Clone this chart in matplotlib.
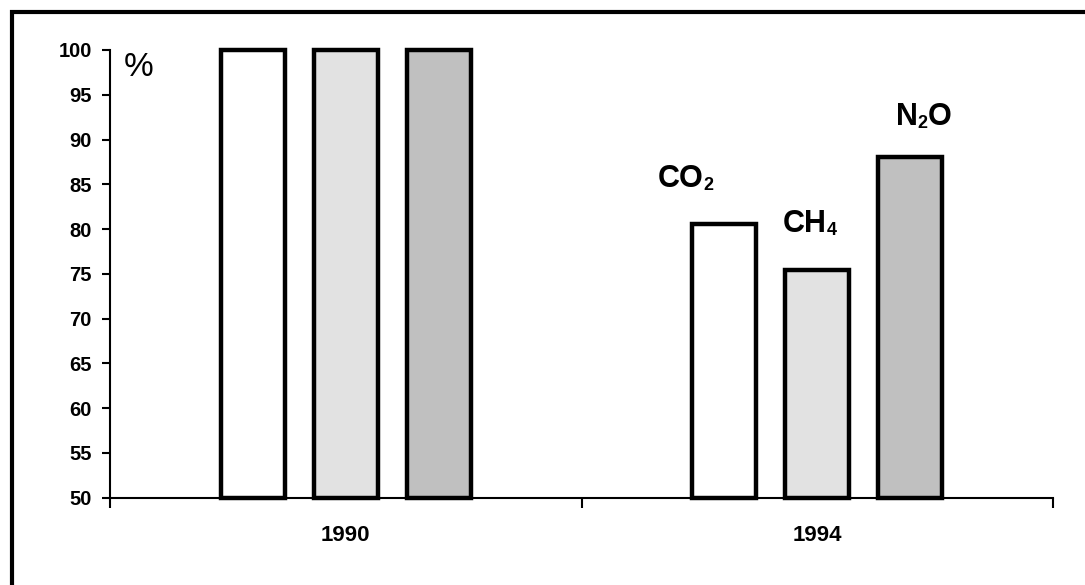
import matplotlib
matplotlib.use("Agg")
import matplotlib.pyplot as plt
from matplotlib.patches import Rectangle
from matplotlib.transforms import offset_copy

years = ["1990", "1994"]
gases = ["CO2", "CH4", "N2O"]
gas_label_parts = [[("CO", False), ("2", True)],
                   [("CH", False), ("4", True)],
                   [("N", False), ("2", True), ("O", False)]]
values_1990 = [100, 100, 100]
values_1994 = [80.6, 75.4, 88.0]
colors = ["#FFFFFF", "#E2E2E2", "#C0C0C0"]
yticks = [50, 55, 60, 65, 70, 75, 80, 85, 90, 95, 100]
label_pos = [(1.162, 84.7), (1.427, 79.7), (1.667, 91.6)]

plt.rcParams["font.family"] = ["Liberation Sans", "DejaVu Sans"]

fig = plt.figure(figsize=(10.85, 5.85), dpi=100)
W, H = 1085, 585
ax = fig.add_axes([110 / W, 1 - 497.7 / H, (1053 - 110) / W, (497.7 - 50) / H])

offsets = [-0.197, 0.0, 0.197]
width = 0.136
series = list(zip(*[values_1990, values_1994]))
for i, gas in enumerate(gases):
    xs = [0.5 + offsets[i], 1.5 + offsets[i]]
    vals = [series[i][0] - 50, series[i][1] - 50]
    ax.bar(xs, vals, width=width, bottom=50, color=colors[i],
           edgecolor="black", linewidth=3.2, zorder=3, clip_on=False)

ax.set_xlim(0, 2)
ax.set_ylim(50, 100)
ax.set_yticks(yticks)
ax.set_yticklabels([str(t) for t in yticks], fontsize=14.5, fontweight="bold")
ax.tick_params(axis="y", which="major", length=6, width=1.5, pad=7, direction="out")

ax.set_xticks([0, 1, 2])
ax.set_xticklabels(["", "", ""])
ax.tick_params(axis="x", which="major", length=7, width=1.5, direction="out")
ax.set_xticks([0.5, 1.5], minor=True)
ax.set_xticklabels(years, minor=True, fontsize=16, fontweight="bold")
ax.tick_params(axis="x", which="minor", length=0, pad=20)

for s in ["top", "right"]:
    ax.spines[s].set_visible(False)
for s in ["left", "bottom"]:
    ax.spines[s].set_linewidth(1.5)

fig.canvas.draw()
renderer = fig.canvas.get_renderer()
for (x, y), parts in zip(label_pos, gas_label_parts):
    dx = 0.0
    for txt, sub in parts:
        size = 13 if sub else 22
        dy = -3 if sub else 0
        tr = offset_copy(ax.transData, fig=fig, x=dx, y=dy, units="dots")
        t = ax.text(x, y, txt, fontsize=size, fontweight="bold",
                    ha="left", va="baseline", transform=tr)
        dx += t.get_window_extent(renderer=renderer).width

ax.text(139 / W, 1 - 67 / H, "%", transform=fig.transFigure, fontsize=24,
        ha="center", va="center")

fig.patches.append(Rectangle((11.5 / W, -1), 3, 1 - 11.5 / H + 1,
                             transform=fig.transFigure, fill=False,
                             edgecolor="black", linewidth=3))

fig.savefig("out.png", dpi=100)
